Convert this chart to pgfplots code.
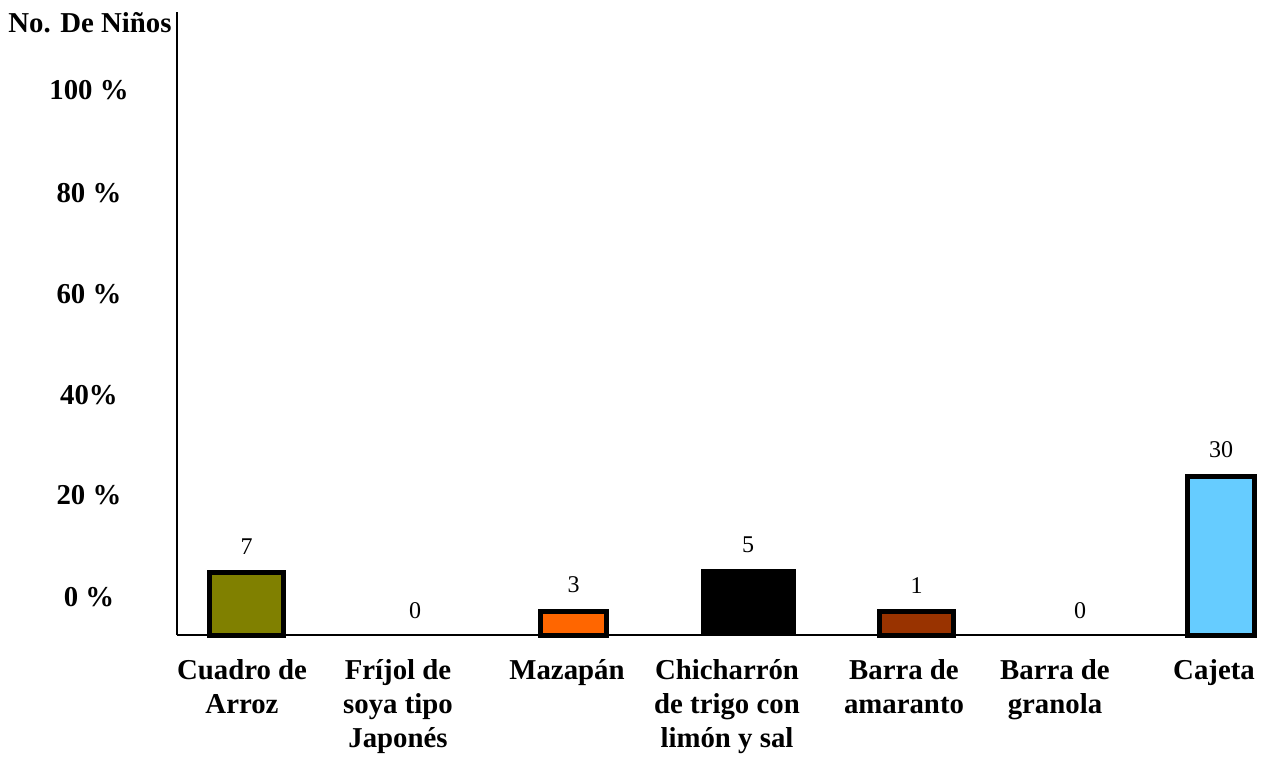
\documentclass[border=0pt]{standalone}
\usepackage{fontspec}
\setmainfont{Liberation Serif}
\usepackage{pgfplots}
\pgfplotsset{compat=1.18}
\definecolor{olivebar}{HTML}{808000}
\definecolor{orangebar}{HTML}{FF6600}
\definecolor{brownbar}{HTML}{993300}
\definecolor{bluebar}{HTML}{66CCFF}
\newcommand{\labfont}{\fontsize{14.4}{17}\selectfont\bfseries}
\newcommand{\valfont}{\fontsize{12}{14}\selectfont}
\begin{document}
\begin{tikzpicture}
\useasboundingbox (-88.5pt,-60.5pt) rectangle (545pt,317.5pt);
\begin{axis}[
  at={(0,0)}, anchor=south west,
  scale only axis, width=540pt, height=311.5pt,
  xmin=177, xmax=1257, ymin=0, ymax=623,
  axis lines=left,
  axis line style={-, line width=1pt},
  xtick={242,398,567,727,904,1055,1214},
  xticklabels={{Cuadro de\\Arroz},{Fríjol de\\soya tipo\\Japonés},{Mazapán},{Chicharrón\\de trigo con\\limón y sal},{Barra de\\amaranto},{Barra de\\granola},{Cajeta}},
  xticklabel style={align=center, anchor=north, inner sep=0pt, yshift=-12pt, font=\labfont},
  ytick={38,140,240,341,442,545},
  yticklabels={{0 \%},{20 \%},{40\%},{60 \%},{80 \%},{100 \%}},
  yticklabel style={anchor=center, inner sep=0pt, xshift=-44pt, font=\labfont},
  major tick length=0pt,
  clip=false,
  point meta=explicit,
  /pgf/number format/assume math mode=true,
  nodes near coords,
  nodes near coords style={font=\valfont, anchor=south, inner sep=0pt, yshift=8pt},
]
\addplot[ybar, bar shift=0pt, bar width=74, fill=olivebar, draw=black, line width=2.5pt] coordinates {(246.5,62.5) [7]};
\addplot[ybar, bar shift=0pt, bar width=74, fill=none, draw=none] coordinates {(415,0) [0]};
\addplot[ybar, bar shift=0pt, bar width=66, fill=orangebar, draw=black, line width=2.5pt] coordinates {(573.5,23.5) [3]};
\addplot[ybar, bar shift=0pt, bar width=94, fill=black, draw=black, line width=0.5pt] coordinates {(748,66) [5]};
\addplot[ybar, bar shift=0pt, bar width=74, fill=brownbar, draw=black, line width=2.5pt] coordinates {(916.5,23.5) [1]};
\addplot[ybar, bar shift=0pt, bar width=74, fill=none, draw=none] coordinates {(1080,0) [0]};
\addplot[ybar, bar shift=0pt, bar width=67, fill=bluebar, draw=black, line width=2.5pt] coordinates {(1221,158.5) [30]};
\node[anchor=base east, inner sep=0pt, font=\labfont] at (axis cs:172,602) {No. De Niños};
\end{axis}
\end{tikzpicture}
\end{document}
